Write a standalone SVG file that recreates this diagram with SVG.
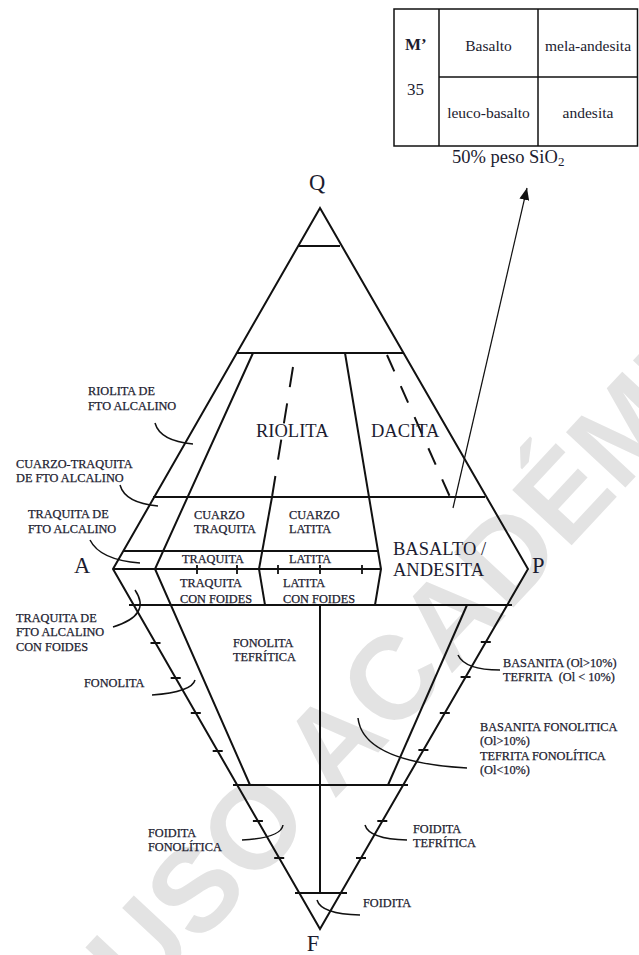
<svg xmlns="http://www.w3.org/2000/svg" width="639" height="955" viewBox="0 0 639 955">
<style>
.ln{stroke:#111;stroke-width:2;fill:none;stroke-linejoin:miter}
.dash{stroke:#111;stroke-width:2;fill:none}
.tk{stroke:#111;stroke-width:1.8;fill:none}
.ld{stroke:#111;stroke-width:1.5;fill:none}
.tbl{stroke:#111;stroke-width:1.5;fill:none}
.t{font-family:"Liberation Serif","Times New Roman",serif;fill:#1c1c30}
.s{font-size:12.3px;stroke:#1c1c30;stroke-width:0.25}
.big{font-size:18.5px}
.v{font-size:22.5px}
.tb{font-size:15.5px}
.wm{font-family:"Liberation Sans",Arial,sans-serif;font-weight:bold;font-size:118px;fill:#e3e3e3}
</style>
<defs>
<marker id="head" markerWidth="12" markerHeight="10" refX="12" refY="5" orient="auto" markerUnits="userSpaceOnUse">
<path d="M0,0 L12,5 L0,10 z" fill="#111"/>
</marker>
</defs>
<rect width="639" height="955" fill="#fff"/>

<!-- background stamp -->
<text class="wm" transform="translate(140,1008) rotate(-47)">USO ACADÉMICO</text>

<!-- M' / SiO2 table -->
<g id="table">
<rect class="tbl" x="394" y="9" width="243.5" height="137"/>
<line class="tbl" x1="439" y1="9" x2="439" y2="146"/>
<line class="tbl" x1="538" y1="9" x2="538" y2="146"/>
<line class="tbl" x1="439" y1="77" x2="637.5" y2="77"/>
<text class="t" x="405" y="50" font-size="17" font-weight="bold">M’</text>
<text class="t" x="407" y="95" font-size="17">35</text>
<text class="t tb" x="488.5" y="51" text-anchor="middle">Basalto</text>
<text class="t tb" x="588" y="51" text-anchor="middle">mela-andesita</text>
<text class="t tb" x="488.5" y="118" text-anchor="middle">leuco-basalto</text>
<text class="t tb" x="588" y="118" text-anchor="middle">andesita</text>
<text class="t" x="452" y="163" font-size="18.5">50% peso SiO<tspan font-size="13" dy="3">2</tspan></text>
</g>

<!-- outline of the QAPF double triangle -->
<g id="outline">
<polygon class="ln" points="320,208 528,569 320,929 113,569"/>
</g>

<!-- Q field: upper triangle -->
<g id="upper">
<line class="ln" x1="299" y1="246" x2="340" y2="246"/>
<line class="ln" x1="237" y1="353" x2="403" y2="353"/>
<line class="ln" x1="153" y1="497" x2="485" y2="497"/>
<polyline class="ln" points="253,353 155,569 250,785"/>
<line class="ln" x1="272" y1="497" x2="259" y2="569"/>
<polyline class="ln" points="345,353 381,569 375,605"/>
<line class="dash" x1="293" y1="367" x2="272" y2="497" stroke-dasharray="20.3 16.5"/>
<line class="dash" x1="387" y1="355" x2="450" y2="497" stroke-dasharray="18 16"/>
<text class="t big" x="256" y="437">RIOLITA</text>
<text class="t big" x="371" y="437">DACITA</text>
</g>

<!-- central band around the A-P join -->
<g id="band">
<line class="ln" x1="123" y1="551" x2="379" y2="551"/>
<line class="ln" x1="113" y1="569" x2="381" y2="569"/>
<line class="ln" x1="259" y1="569" x2="265" y2="605"/>
<line class="ln" x1="129" y1="605" x2="512" y2="605"/>
<path class="tk" d="M197,565V574M237,565V574M278,565V574M320,565V574M362,565V574"/>
<text class="t s" x="194" y="518.5">CUARZO</text>
<text class="t s" x="194" y="533">TRAQUITA</text>
<text class="t s" x="289" y="518.5">CUARZO</text>
<text class="t s" x="289" y="533">LATITA</text>
<text class="t s" x="182" y="563">TRAQUITA</text>
<text class="t s" x="289" y="563">LATITA</text>
<text class="t s" x="180" y="587">TRAQUITA</text>
<text class="t s" x="180" y="603">CON FOIDES</text>
<text class="t s" x="283" y="587">LATITA</text>
<text class="t s" x="283" y="603">CON FOIDES</text>
<text class="t big" x="393" y="555">BASALTO /</text>
<text class="t big" x="393" y="576">ANDESITA</text>
</g>

<!-- F field: lower triangle -->
<g id="lower">
<line class="ln" x1="467" y1="605" x2="388" y2="785"/>
<line class="ln" x1="320" y1="605" x2="320" y2="893"/>
<line class="ln" x1="233" y1="785" x2="408" y2="785"/>
<line class="ln" x1="295" y1="893" x2="347" y2="893"/>
<path class="tk" d="M150.5,643h10M170.7,678h10M190.8,713h10M212.7,751h10M252.9,821h10M274.2,858h10"/>
<path class="tk" d="M480.8,642h10M460.6,677h10M439.8,713h10M418.4,750h10M377.3,821h10M356,858h10"/>
<text class="t s" x="233" y="647">FONOLITA</text>
<text class="t s" x="233" y="661">TEFRÍTICA</text>
</g>

<!-- corner letters -->
<g id="vertices">
<text class="t v" x="317" y="190" text-anchor="middle">Q</text>
<text class="t v" x="74" y="573">A</text>
<text class="t v" x="532" y="573">P</text>
<text class="t v" x="313" y="951" text-anchor="middle">F</text>
</g>

<!-- outside labels -->
<g id="labels-left">
<text class="t s" x="88" y="395">RIOLITA DE</text>
<text class="t s" x="88" y="409.5">FTO ALCALINO</text>
<text class="t s" x="16" y="468">CUARZO-TRAQUITA</text>
<text class="t s" x="16" y="482">DE FTO ALCALINO</text>
<text class="t s" x="28" y="518">TRAQUITA DE</text>
<text class="t s" x="28" y="533">FTO ALCALINO</text>
<text class="t s" x="16" y="622">TRAQUITA DE</text>
<text class="t s" x="16" y="636">FTO ALCALINO</text>
<text class="t s" x="16" y="651">CON FOIDES</text>
<text class="t s" x="84" y="687">FONOLITA</text>
<text class="t s" x="148" y="837">FOIDITA</text>
<text class="t s" x="148" y="851">FONOLÍTICA</text>
</g>
<g id="labels-right">
<text class="t s" x="503" y="667">BASANITA (Ol&gt;10%)</text>
<text class="t s" x="503" y="681">TEFRITA&#160; (Ol &lt; 10%)</text>
<text class="t s" x="480" y="731">BASANITA FONOLITICA</text>
<text class="t s" x="480" y="745">(Ol&gt;10%)</text>
<text class="t s" x="480" y="760">TEFRITA FONOLÍTICA</text>
<text class="t s" x="480" y="774">(Ol&lt;10%)</text>
<text class="t s" x="413" y="833">FOIDITA</text>
<text class="t s" x="413" y="847">TEFRÍTICA</text>
<text class="t s" x="363" y="907">FOIDITA</text>
</g>

<!-- leader curves and the SiO2 arrow -->
<g id="connectors">
<path class="ld" d="M155,423 Q160,441 193,444"/>
<path class="ld" d="M120,485 Q125,503 158,506"/>
<path class="ld" d="M90,540 Q100,560 140,563"/>
<path class="ld" d="M135,590 Q152,615 113,627"/>
<path class="ld" d="M152,695 Q192,692 195,680"/>
<path class="ld" d="M458,655 Q465,670 500,670"/>
<path class="ld" d="M358,718 Q363,762 467,768"/>
<path class="ld" d="M242,840 Q281,838 283,825"/>
<path class="ld" d="M365,825 Q369,839 407,840"/>
<path class="ld" d="M317,900 Q321,914 360,915"/>
<line x1="453" y1="508" x2="527" y2="188" stroke="#111" stroke-width="1.2" marker-end="url(#head)"/>
</g>
</svg>
